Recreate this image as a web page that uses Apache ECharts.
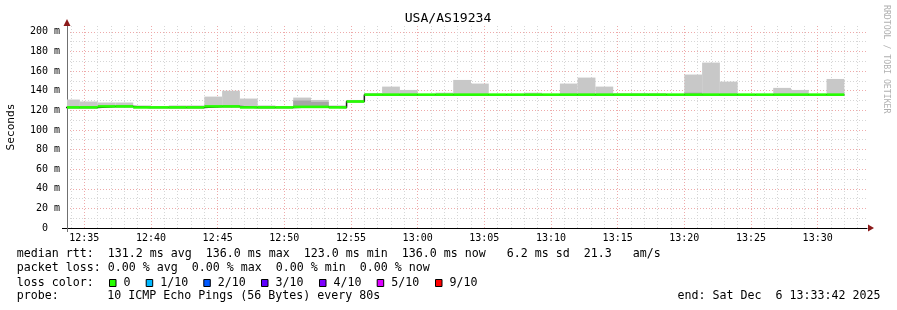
<!DOCTYPE html>
<html>
<head>
<meta charset="utf-8">
<script src="https://cdn.jsdelivr.net/npm/echarts@6/dist/echarts.min.js"></script>
<style>
  html, body { margin: 0; padding: 0; background: #ffffff; }
  #chart { width: 897px; height: 310px; }
</style>
</head>
<body>
<div id="chart"></div>
<script>
// ---- data ----
const chartTitle = 'USA/AS19234';
const yAxisTitle = 'Seconds';
const stepSeconds = 80;
const axisStart = '12:33:42';
const axisEnd = '13:33:42';

const binStart = [
  '12:33:20','12:34:40','12:36:00','12:37:20','12:38:40','12:40:00','12:41:20','12:42:40',
  '12:44:00','12:45:20','12:46:40','12:48:00','12:49:20','12:50:40','12:52:00','12:53:20',
  '12:54:40','12:56:00','12:57:20','12:58:40','13:00:00','13:01:20','13:02:40','13:04:00',
  '13:05:20','13:06:40','13:08:00','13:09:20','13:10:40','13:12:00','13:13:20','13:14:40',
  '13:16:00','13:17:20','13:18:40','13:20:00','13:21:20','13:22:40','13:24:00','13:25:20',
  '13:26:40','13:28:00','13:29:20','13:30:40'
];
// median rtt per step (ms)
const medianRtt = [
  123, 123, 124, 124, 123, 123, 123, 123,
  124, 124, 123, 123, 123, 123.5, 123.5, 123,
  129, 136, 136, 136, 136, 136, 136, 136,
  136, 136, 136, 136, 136, 136, 136, 136,
  136, 136, 136, 136, 136, 136, 136, 136,
  136, 136, 136, 136
];
// smoke (spread of the pings): lowest and highest value per step (ms); null = no visible smoke
const smokeLow = [
  122, 122, 123, 123, 122, null, 122, 122,
  123, 123, 122, 122, null, 122.5, 122.5, 122,
  128, 135, 135, 135, null, 135, 135, 135,
  null, null, 135, null, 135, 135, 135, 135,
  135, 135, null, 135, 135, 135, null, null,
  135, 135, null, 135
];
const smokeHigh = [
  131, 129, 128, 128, 125, null, 125, 125,
  134, 140, 132, 125, null, 133, 130.6, 125,
  130.6, 137.7, 144.2, 140.8, null, 138, 151, 147.3,
  null, null, 138, null, 147.3, 153.4, 144.2, 137.5,
  137.5, 137.5, null, 156.5, 168.7, 149.3, null, null,
  142.9, 140.8, null, 152
];
// denser part of the smoke (darker shade), null = none
const denseHigh = [
  null, null, null, null, null, null, null, null,
  null, null, null, null, null, 130, 128.6, null,
  null, null, null, null, null, null, null, null,
  null, null, null, null, null, null, null, null,
  null, null, null, 138, null, null, null, null,
  null, null, null, null
];

const rttLine = ['median rtt:', '131.2 ms avg', '136.0 ms max', '123.0 ms min', '136.0 ms now', '6.2 ms sd', '21.3', 'am/s'];
const lossLine = ['packet loss:', '0.00 % avg', '0.00 % max', '0.00 % min', '0.00 % now'];
const lossLabels = ['0', '1/10', '2/10', '3/10', '4/10', '5/10', '9/10'];
const probeText = ['probe:', '10 ICMP Echo Pings (56 Bytes) every 80s'];
const endText = 'end: Sat Dec  6 13:33:42 2025';
const sideText = 'RRDTOOL / TOBI OETIKER';

// ---- styling ----
const lossColors = ['#26ff00', '#00b8ff', '#0059ff', '#5e00ff', '#7e00ff', '#dd00ff', '#ff0000'];
const MONO = '"DejaVu Sans Mono", monospace';
const LEG_FONT = '11.63px ' + MONO;

function toSec(s) {
  const p = s.split(':').map(Number);
  return p[0] * 3600 + p[1] * 60 + (p[2] || 0);
}
function pad2(n) { return (n < 10 ? '0' : '') + n; }

const smokeData = [];
const denseData = [];
const medianData = [];
const stepLine = [];
binStart.forEach((s, i) => {
  const t = toSec(s);
  if (smokeHigh[i] != null) smokeData.push([t, smokeLow[i], smokeHigh[i]]);
  if (denseHigh[i] != null) denseData.push([t, medianRtt[i] - 0.5, denseHigh[i]]);
  medianData.push([t, medianRtt[i]]);
  stepLine.push([t, medianRtt[i]]);
});
stepLine.push([toSec(binStart[binStart.length - 1]) + stepSeconds, medianRtt[medianRtt.length - 1]]);

function bandItem(params, api) {
  const t = api.value(0), lo = api.value(1), hi = api.value(2);
  const a = api.coord([t, hi]);
  const b = api.coord([t + stepSeconds, lo]);
  const cs = params.coordSys;
  const r = echarts.graphic.clipRectByRect(
    { x: a[0], y: a[1], width: b[0] - a[0], height: b[1] - a[1] },
    { x: cs.x, y: cs.y, width: cs.width, height: cs.height });
  if (!r) return null;
  return { type: 'rect', shape: r, style: { fill: api.visual('color') } };
}
function medianItem(params, api) {
  const t = api.value(0), m = api.value(1);
  const a = api.coord([t, m]);
  const b = api.coord([t + stepSeconds, m]);
  const cs = params.coordSys;
  const x1 = Math.max(a[0], cs.x), x2 = Math.min(b[0], cs.x + cs.width);
  if (x2 <= x1) return null;
  return { type: 'line', shape: { x1: x1, y1: a[1], x2: x2, y2: b[1] },
           style: { stroke: lossColors[0], lineWidth: 2.6 } };
}

// ---- legend / decoration graphics ----
const graphics = [];
function txt(x, y, text, opts) {
  graphics.push(Object.assign({
    type: 'text', x: x, y: y, silent: true,
    style: Object.assign({ text: text, font: LEG_FONT, fill: '#000', align: 'left', verticalAlign: 'middle' }, opts || {})
  }));
}
const CW = 7.0;   // character advance of the legend font
const LX = 16.7;
// title
graphics.push({ type: 'text', x: 448, y: 18.7, silent: true,
  style: { text: chartTitle, font: '13.1px ' + MONO, fill: '#000', align: 'center', verticalAlign: 'middle' } });
// y axis title
graphics.push({ type: 'text', x: 11, y: 127, rotation: Math.PI / 2, silent: true,
  style: { text: yAxisTitle, font: '11.2px ' + MONO, fill: '#000', align: 'center', verticalAlign: 'middle' } });
// side credit
graphics.push({ type: 'text', x: 886, y: 5, rotation: -Math.PI / 2, silent: true,
  style: { text: sideText, font: '8.2px ' + MONO, fill: '#b0b0b0', align: 'left', verticalAlign: 'middle' } });
// axis arrows and axis overhangs (decoration)
graphics.push({ type: 'polygon', silent: true, z: 100,
  shape: { points: [[63.5, 26], [70.5, 26], [67, 19]] }, style: { fill: '#8b1a1a' } });
graphics.push({ type: 'polygon', silent: true, z: 100,
  shape: { points: [[868, 224.5], [868, 231.5], [874, 228]] }, style: { fill: '#8b1a1a' } });
graphics.push({ type: 'line', silent: true, z: 100,
  shape: { x1: 62, y1: 228.5, x2: 68, y2: 228.5 }, style: { stroke: '#000', lineWidth: 1 } });
graphics.push({ type: 'line', silent: true, z: 100,
  shape: { x1: 67.5, y1: 228, x2: 67.5, y2: 232 }, style: { stroke: '#707070', lineWidth: 1 } });
// line 1
const rttCols = [0, 13, 27, 41, 55, 70, 81, 88];
rttLine.forEach((s, i) => txt(LX + rttCols[i] * CW, 254.3, s));
// line 2
const lossCols = [0, 13, 25, 37, 49];
lossLine.forEach((s, i) => txt(LX + lossCols[i] * CW, 268.3, s));
// line 3
txt(LX, 282.7, 'loss color:');
const boxX = [109, 145.7, 203.3, 261, 319, 376.7, 435];
lossLabels.forEach((s, i) => {
  graphics.push({ type: 'rect', silent: true,
    shape: { x: boxX[i] + 0.5, y: 279.5, width: 6.5, height: 7 },
    style: { fill: lossColors[i], stroke: '#000', lineWidth: 1 } });
  txt(boxX[i] + 14.5, 282.7, s);
});
// line 4
txt(LX, 296.3, probeText[0]);
txt(107.3, 296.3, probeText[1]);
txt(880.5, 296.3, endText, { align: 'right' });

const majorGrid = '#eeaaaa';
const minorGrid = '#d6d6d6';

const option = {
  backgroundColor: '#ffffff',
  animation: false,
  grid: { left: 67, right: 30, top: 26, bottom: 82, containLabel: false },
  xAxis: {
    type: 'value',
    min: toSec(axisStart), max: toSec(axisEnd),
    splitNumber: 12, minInterval: 300, maxInterval: 300,
    axisLine: { show: true, lineStyle: { color: '#000', width: 1 } },
    axisTick: { show: false },
    axisLabel: {
      show: true, margin: 5, fontFamily: MONO, fontSize: 10, color: '#000',
      showMinLabel: true, showMaxLabel: true,
      formatter: v => (v % 300 !== 0) ? '' : pad2(Math.floor(v / 3600)) + ':' + pad2(Math.floor(v % 3600 / 60))
    },
    splitLine: { show: true, showMinLine: false, showMaxLine: false, lineStyle: { color: majorGrid, type: [1, 2], width: 1 } },
    minorTick: { show: false, splitNumber: 5 },
    minorSplitLine: { show: true, lineStyle: { color: minorGrid, type: [1, 2], width: 1 } }
  },
  yAxis: {
    type: 'value', min: 0, max: 206, interval: 20,
    axisLine: { show: true, lineStyle: { color: '#707070', width: 1 } },
    axisTick: { show: false },
    axisLabel: {
      show: true, margin: 7, fontFamily: MONO, fontSize: 10, color: '#000',
      formatter: v => (v % 20 !== 0 || v > 200) ? '' : (v === 0 ? '0  ' : v + ' m')
    },
    splitLine: { show: true, showMinLine: false, showMaxLine: false, lineStyle: { color: majorGrid, type: [1, 2], width: 1 } },
    minorTick: { show: false, splitNumber: 2 },
    minorSplitLine: { show: true, lineStyle: { color: minorGrid, type: [1, 2], width: 1 } }
  },
  series: [
    { type: 'custom', name: 'smoke', data: smokeData, renderItem: bandItem,
      itemStyle: { color: '#c8c8c8' }, encode: { x: 0, y: [1, 2] }, z: 2, silent: true },
    { type: 'custom', name: 'dense', data: denseData, renderItem: bandItem,
      itemStyle: { color: '#a6a6a6' }, encode: { x: 0, y: [1, 2] }, z: 3, silent: true },
    { type: 'line', name: 'median', data: stepLine, step: 'end', showSymbol: false,
      lineStyle: { color: '#202020', width: 1.5 }, z: 4, silent: true },
    { type: 'custom', name: 'loss0', data: medianData, renderItem: medianItem,
      encode: { x: 0, y: 1 }, z: 5, silent: true }
  ],
  graphic: graphics
};

const chart = echarts.init(document.getElementById('chart'), null, { renderer: 'canvas' });
chart.setOption(option);
</script>
</body>
</html>
